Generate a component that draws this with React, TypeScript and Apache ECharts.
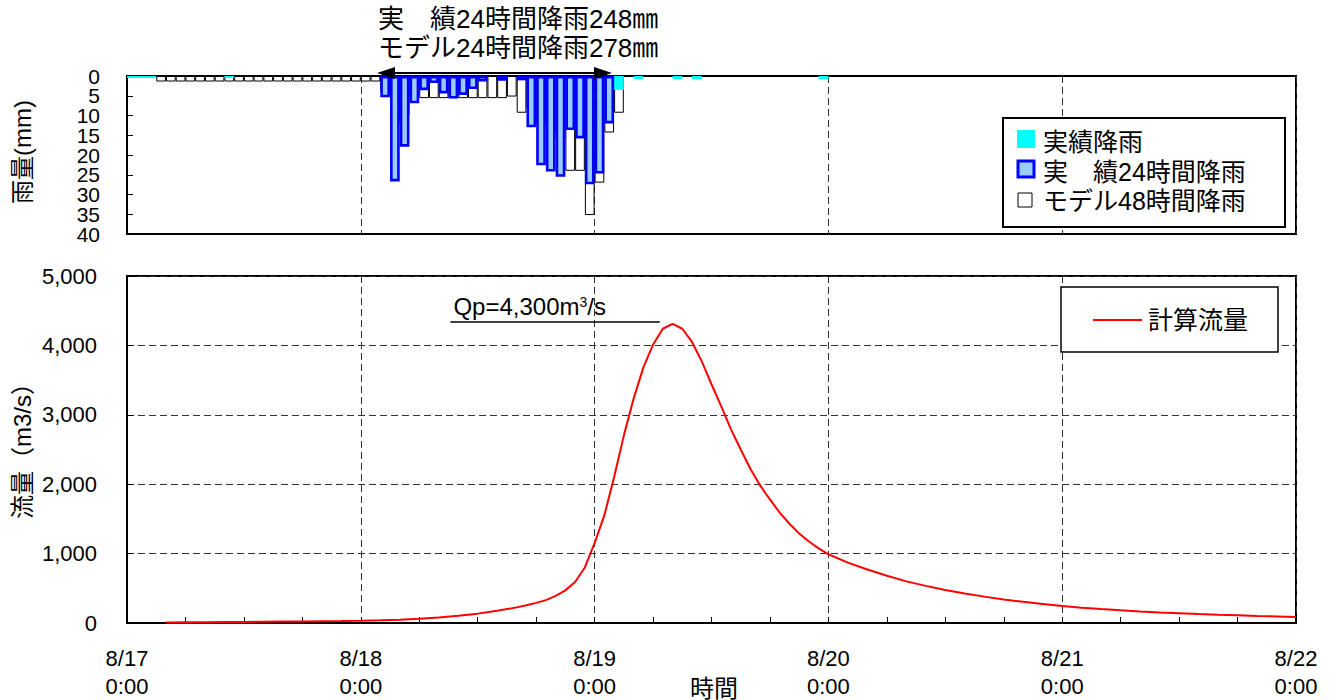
import React, { useEffect, useRef } from "react";
import * as echarts from "echarts";

const FONT = "'Liberation Sans', 'Noto Sans CJK JP', sans-serif";

const dayTickLabels = ["8/17\n0:00", "8/18\n0:00", "8/19\n0:00", "8/20\n0:00", "8/21\n0:00", "8/22\n0:00"];
const rainTickValues = [0, 5, 10, 15, 20, 25, 30, 35, 40];

// Hourly rainfall, slot k = hour k..k+1 counted from 8/17 0:00
const actualRainSlots = [0, 1, 2, 10, 50, 52, 56, 58, 71];
const actualRainMm = [0.5, 0.5, 0.5, 0.5, 3.5, 0.8, 0.8, 0.8, 0.8];

const actual24Start = 26;
const actual24Mm = [
  5.4, 26.7, 17.9, 6.9, 3.6, 1.8, 4.4, 5.7, 4.8, 3.3, 1.4, null, 1.2, null, 1.1,
  13, 22.6, 24.2, 25.5, 13.7, 15.8, 27.4, 24.7, 12,
];

const model48Start = 3;
const model48Mm = [
  1.4, 1.4, 1.4, 1.4, 1.4, 1.4, 1.4, 1.4, 1.4, 1.4, 1.4, 1.4, 1.4, 1.4, 1.4, 1.4,
  1.4, 1.4, 1.4, 1.4, 1.4, 1.4, 1.4,
  4, 12, 10, 5,
  5.6, 5.6, 5.6, 5.6, 5.6, 5.6, 5.6, 5.6, 5.6,
  5.2, 9.3, 8, 12, 14, 16, 24, 24, 35.2, 27, 14.3, 9.3,
];

// Computed discharge (m3/s), hours from 8/17 0:00
const flowHours = [
  4, 6, 8, 10, 12, 14, 16, 18, 20, 22, 24, 26, 28, 30, 32, 34, 36, 38, 40, 41, 42, 43, 44,
  45, 46, 47, 48, 49, 50, 51, 52, 53, 54, 55, 56, 57, 58, 59, 60, 61, 62, 63, 64, 65, 66,
  67, 68, 69, 70, 71, 72, 74, 76, 78, 80, 82, 84, 86, 88, 90, 92, 94, 96, 98, 100, 102,
  104, 106, 108, 110, 112, 114, 116, 118, 120,
];
const flowM3s = [
  8, 10, 12, 14, 16, 18, 20, 22, 25, 28, 32, 38, 48, 62, 80, 105, 135, 175, 225, 255, 290, 330, 390,
  470, 590, 800, 1150, 1550, 2100, 2700, 3230, 3680, 4010, 4240, 4310, 4240, 4050, 3770, 3440, 3120, 2790, 2500, 2220, 1980, 1780,
  1590, 1430, 1290, 1175, 1075, 990, 870, 770, 680, 600, 535, 475, 425, 380, 340, 305, 275, 245, 220, 200, 182,
  166, 152, 140, 128, 118, 110, 102, 95, 88,
];

const peakLabel = "Qp=4,300m";
const peakLineLevel = 4340;
const peakLineFrom = 33.2;
const peakLineTo = 54.7;

const titleLine1 = "実\u3000績24時間降雨248㎜";
const titleLine2 = "モデル24時間降雨278㎜";

export default function App() {
  const ref = useRef<HTMLDivElement>(null);
  useEffect(() => {
    const chart = echarts.init(ref.current!, null, { renderer: "svg" });
    const dash = { color: "#333", type: [7, 4] as any, width: 1 };
    const txt = (text: string, x: number, y: number, extra: any = {}, size = 25) => ({
      type: "text",
      x,
      y,
      z: 101,
      style: { text, fontSize: size, fontFamily: FONT, fill: "#000", verticalAlign: "middle", ...extra },
    });
    const hiddenX = (idx: number) => ({
      gridIndex: idx, type: "value", min: 0, max: 120, interval: 24, show: false,
      splitLine: { show: false },
    });
    const graphic: any[] = [
      txt(titleLine1, 378, 19, {}, 26),
      txt(titleLine2, 378, 48, {}, 26),
      { type: "line", z: 100, shape: { x1: 390, y1: 73, x2: 600, y2: 73 }, style: { stroke: "#000", lineWidth: 2 } },
      { type: "polygon", z: 100, shape: { points: [[377, 73], [395, 67], [395, 79]] }, style: { fill: "#000" } },
      { type: "polygon", z: 100, shape: { points: [[612, 73], [594, 67], [594, 79]] }, style: { fill: "#000" } },
      { ...txt("雨量(mm)", 0, 0, { align: "center" }, 24), x: 22, y: 152, rotation: Math.PI / 2 },
      { ...txt("流量（m3/s）", 0, 0, { align: "center" }, 24), x: 22, y: 445, rotation: Math.PI / 2 },
      txt("時間", 714, 688, { align: "center" }, 24),
      // rainfall legend
      { type: "rect", z: 100, shape: { x: 1003, y: 118, width: 282, height: 109 }, style: { fill: "#fff", stroke: "#000", lineWidth: 2 } },
      { type: "rect", z: 101, shape: { x: 1017, y: 130, width: 18, height: 18 }, style: { fill: "#00FFFF" } },
      txt("実績降雨", 1043, 142),
      { type: "rect", z: 101, shape: { x: 1018, y: 161, width: 16, height: 16 }, style: { fill: "#99CCFF", stroke: "#0000FF", lineWidth: 3 } },
      txt("実\u3000績24時間降雨", 1043, 172),
      { type: "rect", z: 101, shape: { x: 1018, y: 193, width: 14, height: 14 }, style: { fill: "#fff", stroke: "#000", lineWidth: 1 } },
      txt("モデル48時間降雨", 1043, 201),
      // discharge legend
      { type: "rect", z: 100, shape: { x: 1061, y: 287, width: 217, height: 65 }, style: { fill: "#fff", stroke: "#000", lineWidth: 1.5 } },
      { type: "line", z: 101, shape: { x1: 1093, y1: 320, x2: 1142, y2: 320 }, style: { stroke: "#FF0000", lineWidth: 2 } },
      txt("計算流量", 1148, 320),
    ];
    const option: any = {
      animation: false,
      backgroundColor: "#fff",
      textStyle: { fontFamily: FONT },
      grid: [
        { left: 127, top: 76, width: 1169, height: 158, show: true, borderColor: "#000", borderWidth: 2, backgroundColor: "transparent" },
        { left: 127, top: 276, width: 1169, height: 349, show: true, borderColor: "#000", borderWidth: 2, backgroundColor: "transparent" },
      ],
      xAxis: [
        {
          gridIndex: 0, type: "value", min: 0, max: 120, interval: 24,
          axisLine: { show: false }, axisTick: { show: false }, axisLabel: { show: false },
          splitLine: { show: true, lineStyle: dash },
        },
        hiddenX(0),
        hiddenX(0),
        {
          gridIndex: 1, type: "value", min: 0, max: 120, interval: 24,
          axisLine: { show: true, onZero: false, lineStyle: { color: "#000", width: 2 } },
          axisTick: { show: true, inside: true, length: 6, lineStyle: { color: "#000", width: 1 } },
          minorTick: { show: true, splitNumber: 4, length: 6, lineStyle: { color: "#000", width: 1 } },
          axisLabel: {
            formatter: (v: number) => dayTickLabels[Math.round(v / 24)],
            fontSize: 22, lineHeight: 28, color: "#000", margin: 21, fontFamily: FONT,
          },
          splitLine: { show: true, lineStyle: dash },
        },
      ],
      yAxis: [
        {
          gridIndex: 0, type: "value", inverse: true, min: 0, max: 40, interval: 5,
          axisLine: { show: true, lineStyle: { color: "#000", width: 2 } },
          axisTick: { show: true, inside: true, length: 6, lineStyle: { color: "#000" } },
          axisLabel: { show: false },
          splitLine: { show: false },
        },
        {
          gridIndex: 1, type: "value", min: 0, max: 5000, interval: 1000,
          axisLine: { show: true, lineStyle: { color: "#000", width: 2 } },
          axisTick: { show: true, inside: true, length: 6, lineStyle: { color: "#000" } },
          axisLabel: {
            fontSize: 22, color: "#000", margin: 30, fontFamily: FONT,
            formatter: (v: number) => v.toLocaleString("en-US"),
          },
          splitLine: { show: true, lineStyle: dash },
        },
      ],
      series: [
        {
          name: "モデル48時間降雨", type: "bar", xAxisIndex: 0, yAxisIndex: 0,
          barWidth: 9.7, z: 2,
          itemStyle: { color: "#fff", borderColor: "#000", borderWidth: 1 },
          data: model48Mm.map((v, i) => [model48Start + i + 0.5, v]),
        },
        {
          name: "実績降雨", type: "bar", xAxisIndex: 1, yAxisIndex: 0,
          barWidth: 9.7, z: 3,
          itemStyle: { color: "#00FFFF" },
          data: actualRainSlots.map((s, i) => [s + 0.5, actualRainMm[i]]),
        },
        {
          name: "実績24時間降雨", type: "bar", xAxisIndex: 2, yAxisIndex: 0,
          barWidth: 9.7, z: 4,
          itemStyle: { color: "#99CCFF", borderColor: "#0000FF", borderWidth: 2.6 },
          data: actual24Mm
            .map((v, i) => [actual24Start + i + 0.5, v])
            .filter((d) => d[1] !== null),
        },
        {
          name: "計算流量", type: "line", xAxisIndex: 3, yAxisIndex: 1,
          symbol: "none", showSymbol: false, z: 5,
          lineStyle: { color: "#FF0000", width: 2 },
          data: flowHours.map((h, i) => [h, flowM3s[i]]),
          markLine: {
            silent: true, symbol: ["none", "none"],
            lineStyle: { color: "#000", width: 1.5, type: "solid" },
            label: {
              show: true, position: "insideStartTop", distance: 3,
              formatter: "{a|" + peakLabel + "}{b|3}{a|/s}",
              rich: {
                a: { fontSize: 24, fontFamily: FONT, color: "#000" },
                b: { fontSize: 14, fontFamily: FONT, color: "#000", verticalAlign: "top" },
              },
            },
            data: [[{ coord: [peakLineFrom, peakLineLevel] }, { coord: [peakLineTo, peakLineLevel] }]],
          },
        },
      ],
      graphic,
    };
    chart.setOption(option);
    // rain axis tick labels placed through the axis scale
    const tickTexts = rainTickValues.map((v) => {
      const y = chart.convertToPixel({ yAxisIndex: 0 }, v) as number;
      return txt(String(v), 100, y, { align: "right" }, 21);
    });
    chart.setOption({ graphic: [...graphic, ...tickTexts] });
    return () => chart.dispose();
  }, []);
  return (
    <div
      ref={ref}
      style={{ position: "fixed", left: 0, top: 0, width: 1338, height: 700, background: "#fff" }}
    />
  );
}
